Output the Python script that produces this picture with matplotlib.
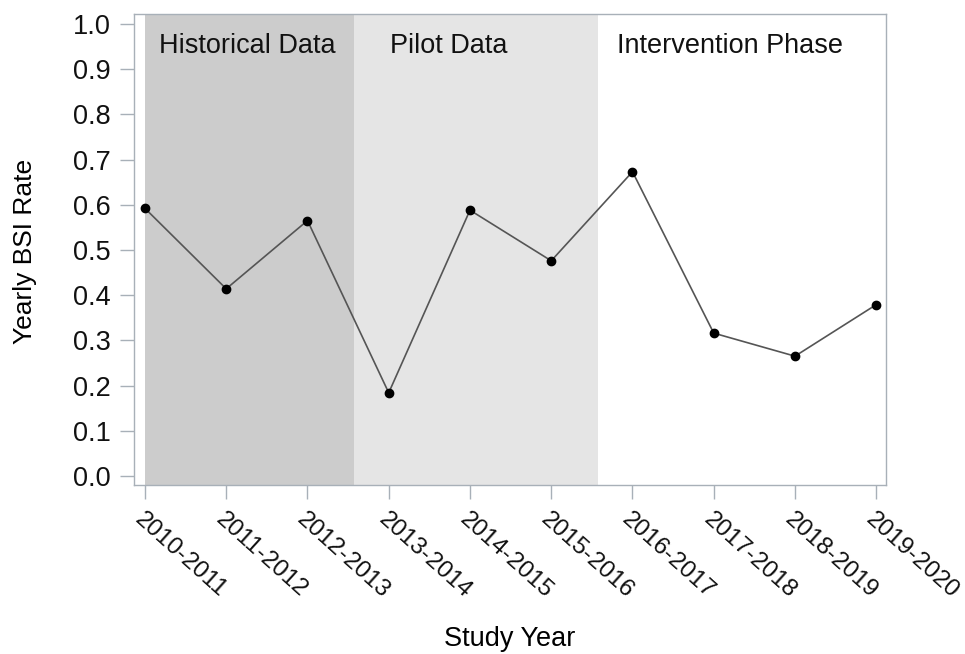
import matplotlib.pyplot as plt
import numpy as np

plt.rcParams['font.family'] = ['Liberation Sans', 'DejaVu Sans']

# study years and yearly BSI rate
years = ["2010-2011", "2011-2012", "2012-2013", "2013-2014", "2014-2015",
         "2015-2016", "2016-2017", "2017-2018", "2018-2019", "2019-2020"]
rates = [0.592, 0.414, 0.565, 0.184, 0.588, 0.476, 0.673, 0.316, 0.265, 0.379]

# study phases: label, start, end, fill colour, label position
phases = ["Historical Data", "Pilot Data", "Intervention Phase"]
phase_start = [0, 2.57, 5.57]
phase_end = [2.57, 5.57, 9.15]
phase_colors = ["#cccccc", "#e5e5e5", "#ffffff"]
phase_label_x = [1.26, 3.74, 7.2]

fig = plt.figure(figsize=(9.65, 6.54), dpi=100)
ax = fig.add_axes([134 / 965, 1 - 485 / 654, (886 - 134) / 965, (485 - 14) / 654])

x = np.arange(len(years))
for name, s, e, c, lx in zip(phases, phase_start, phase_end, phase_colors, phase_label_x):
    ax.axvspan(s, e, color=c, lw=0, zorder=0)
    ax.text(lx, 0.98, name, ha="center", va="top", fontsize=19.5, color="#111111")

ax.plot(x, rates, color="#555555", lw=1.2, marker="o", markersize=6,
        markerfacecolor="black", markeredgecolor="black", zorder=3)

ax.set_xlim(-0.135, 9.12)
ax.set_ylim(-0.02, 1.022)
ax.set_yticks(np.arange(0, 1.01, 0.1))
ax.set_yticklabels([f"{v:.1f}" for v in np.arange(0, 1.01, 0.1)], fontsize=19.5)
ax.set_xticks(x)
ax.set_xticklabels(years, rotation=-42, ha="left", va="top",
                   rotation_mode="anchor", fontsize=17.5)

for sp in ax.spines.values():
    sp.set_color("#a8b0b8")
    sp.set_linewidth(1)
ax.tick_params(colors="#a8b0b8", labelcolor="#111111", length=10, width=1)
ax.tick_params(axis="x", pad=7)
ax.tick_params(axis="y", pad=7)

fig.text(25 / 965, 1 - 251 / 654, "Yearly BSI Rate", rotation=90,
         ha="center", va="center", fontsize=19)
fig.text(510 / 965, 1 - 639 / 654, "Study Year", ha="center", va="center", fontsize=19.5)

fig.savefig("out.png", dpi=100)
